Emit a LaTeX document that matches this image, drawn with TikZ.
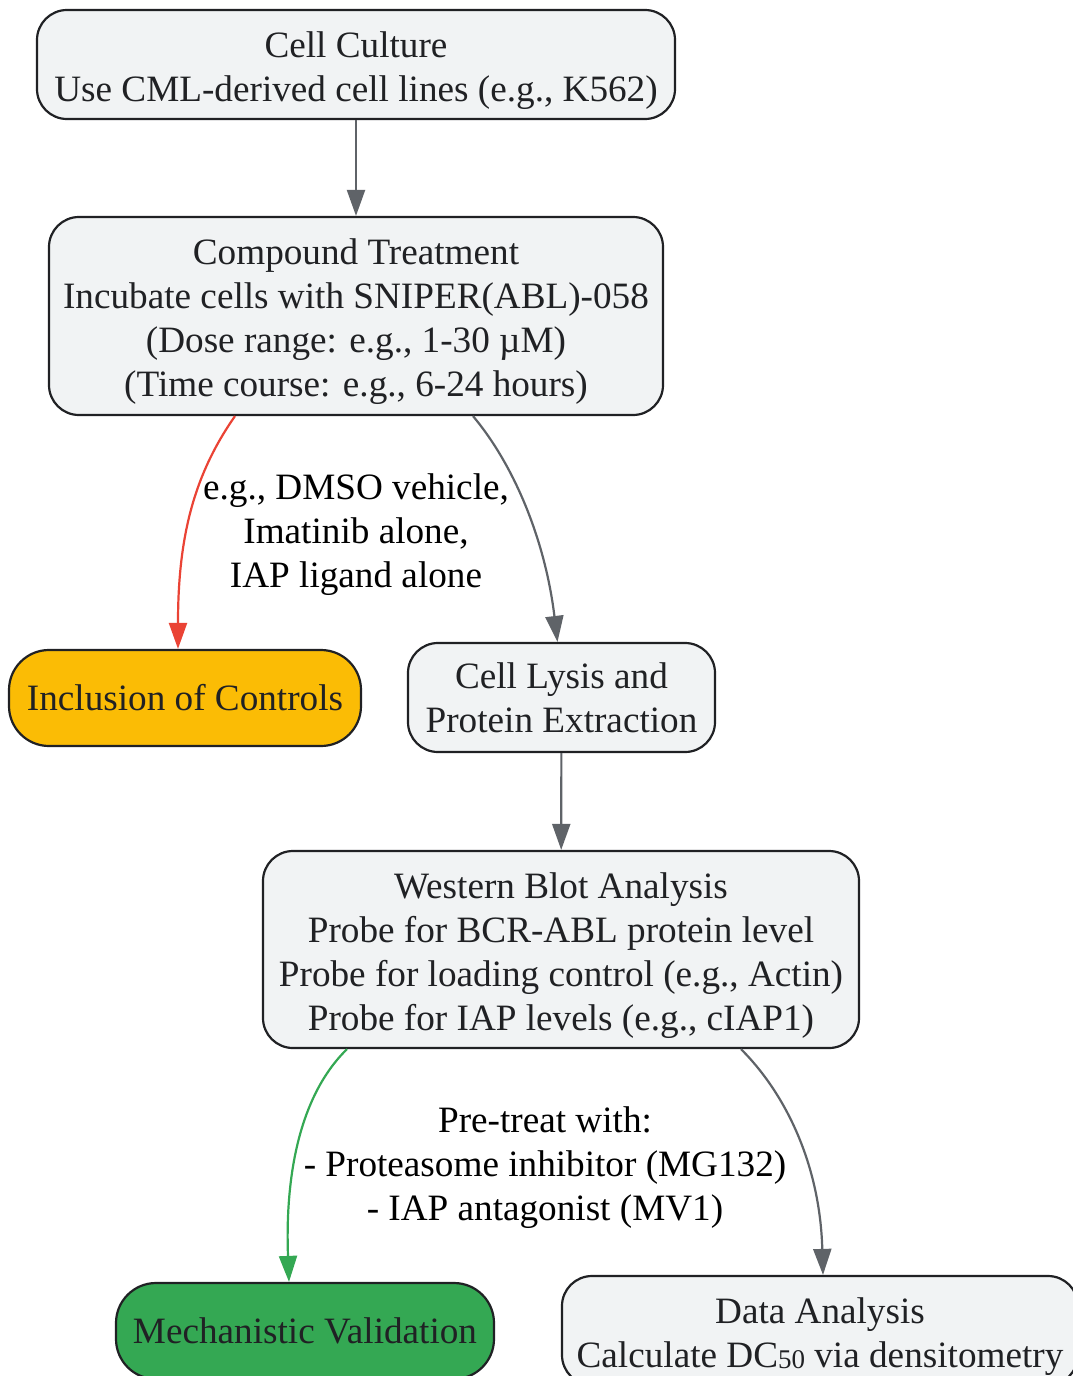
\documentclass[tikz,border=0pt]{standalone}
\usepackage{fontspec}
\setmainfont{Liberation Serif}
\usetikzlibrary{arrows.meta}
\definecolor{boxgray}{HTML}{F1F3F4}
\definecolor{linedark}{HTML}{202124}
\definecolor{edgegray}{HTML}{5F6368}
\definecolor{ctrlyellow}{HTML}{FBBC05}
\definecolor{mechgreen}{HTML}{34A853}
\definecolor{ctrlred}{HTML}{EA4335}
\newcommand{\tstrut}{\rule{0pt}{38pt}}
\begin{document}
\begin{tikzpicture}[x=1pt,y=-1pt,>={Triangle[length=26pt,width=18pt]},
  every node/.style={font=\fontsize{37.2}{44}\selectfont,align=center},
  procbox/.style={draw=linedark,fill=boxgray,line width=2.2pt,rounded corners=30pt,inner sep=0pt,text=linedark},
  flow/.style={->,draw=edgegray,line width=2.2pt}]
\useasboundingbox (0,0) rectangle (1072,1376);

\node[procbox,minimum width=638pt,minimum height=109pt] (cc) at (356,64.5) {\tstrut Cell Culture\\Use CML-derived cell lines (e.g., K562)};
\node[procbox,minimum width=614pt,minimum height=198pt] (ct) at (356,316) {\tstrut Compound Treatment\\Incubate cells with SNIPER(ABL)-058\\(Dose range: e.g., 1-30 µM)\\(Time course: e.g., 6-24 hours)};
\node[procbox,fill=ctrlyellow,rounded corners=40pt,minimum width=352pt,minimum height=96pt] (ctrl) at (185,698) {Inclusion of Controls};
\node[procbox,minimum width=307pt,minimum height=109pt] (lysis) at (561.5,697.5) {Cell Lysis and\\Protein Extraction};
\node[procbox,minimum width=596pt,minimum height=197pt] (wb) at (561,949.5) {\tstrut Western Blot Analysis\\Probe for BCR-ABL protein level\\Probe for loading control (e.g., Actin)\\Probe for IAP levels (e.g., cIAP1)};
\node[procbox,fill=mechgreen,rounded corners=40pt,minimum width=378pt,minimum height=96pt] (mech) at (305,1331) {Mechanistic Validation};
\node[procbox,minimum width=516pt,minimum height=109pt] (data) at (820,1330.5) {\tstrut Data Analysis\\Calculate DC\raisebox{-1pt}{\fontsize{27}{27}\selectfont 50} via densitometry};

\node (ctrllbl) at (356,535) {e.g., DMSO vehicle,\\Imatinib alone,\\IAP ligand alone};
\node (mechlbl) at (545,1168) {Pre-treat with:\\- Proteasome inhibitor (MG132)\\- IAP antagonist (MV1)};

\draw[flow] (cc) -- (ct);
\draw[flow,draw=ctrlred] (ct.south) ++(-121,0) .. controls +(-42,60) and +(0,-110) .. ([xshift=-7pt]ctrl.north);
\draw[flow] (ct.south) ++(117,0) .. controls +(42,50) and +(-12,-100) .. ([xshift=-4pt]lysis.north);
\draw[flow] (lysis) -- (wb);
\draw[flow,draw=mechgreen] (wb.south) ++(-214,0) .. controls +(-48,47) and +(-4,-105) .. ([xshift=-16pt]mech.north);
\draw[flow] (wb.south) ++(180,0) .. controls +(45,45) and +(-3,-110) .. ([xshift=3pt]data.north);

\end{tikzpicture}
\end{document}
